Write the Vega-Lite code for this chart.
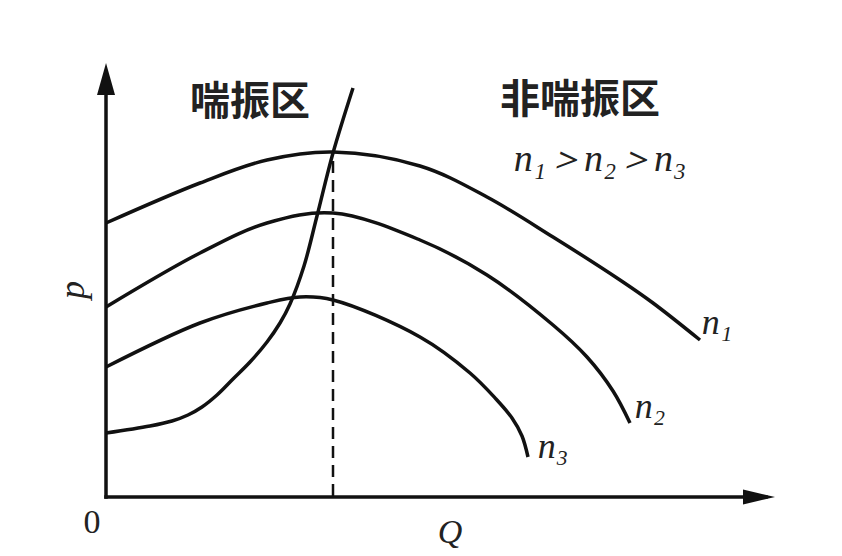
{
  "$schema": "https://vega.github.io/schema/vega-lite/v6.json",
  "width": 680,
  "height": 440,
  "autosize": {"type": "none"},
  "padding": {"left": 106, "top": 57, "right": 56, "bottom": 59},
  "background": "white",
  "config": {"view": {"stroke": null}},
  "datasets": {
    "curves": [
      {"series": "n1", "i": 0, "q": 0, "p": 274},
      {"series": "n1", "i": 1, "q": 94, "p": 314},
      {"series": "n1", "i": 2, "q": 161, "p": 337},
      {"series": "n1", "i": 3, "q": 227, "p": 345},
      {"series": "n1", "i": 4, "q": 314, "p": 331},
      {"series": "n1", "i": 5, "q": 381, "p": 300},
      {"series": "n1", "i": 6, "q": 447, "p": 260},
      {"series": "n1", "i": 7, "q": 514, "p": 217},
      {"series": "n1", "i": 8, "q": 547, "p": 194},
      {"series": "n1", "i": 9, "q": 594, "p": 157},
      {"series": "n2", "i": 0, "q": 0, "p": 190},
      {"series": "n2", "i": 1, "q": 94, "p": 244},
      {"series": "n2", "i": 2, "q": 161, "p": 274},
      {"series": "n2", "i": 3, "q": 227, "p": 284},
      {"series": "n2", "i": 4, "q": 314, "p": 257},
      {"series": "n2", "i": 5, "q": 381, "p": 222},
      {"series": "n2", "i": 6, "q": 447, "p": 172},
      {"series": "n2", "i": 7, "q": 481, "p": 140},
      {"series": "n2", "i": 8, "q": 507, "p": 106},
      {"series": "n2", "i": 9, "q": 524, "p": 74},
      {"series": "n3", "i": 0, "q": 0, "p": 130},
      {"series": "n3", "i": 1, "q": 94, "p": 174},
      {"series": "n3", "i": 2, "q": 161, "p": 194},
      {"series": "n3", "i": 3, "q": 194, "p": 200},
      {"series": "n3", "i": 4, "q": 227, "p": 197},
      {"series": "n3", "i": 5, "q": 314, "p": 160},
      {"series": "n3", "i": 6, "q": 364, "p": 124},
      {"series": "n3", "i": 7, "q": 390, "p": 98},
      {"series": "n3", "i": 8, "q": 406, "p": 79},
      {"series": "n3", "i": 9, "q": 416, "p": 61},
      {"series": "n3", "i": 10, "q": 422, "p": 40},
      {"series": "surge", "i": 0, "q": 0, "p": 64},
      {"series": "surge", "i": 1, "q": 44, "p": 71},
      {"series": "surge", "i": 2, "q": 66, "p": 76},
      {"series": "surge", "i": 3, "q": 82, "p": 82},
      {"series": "surge", "i": 4, "q": 96, "p": 90},
      {"series": "surge", "i": 5, "q": 111, "p": 102},
      {"series": "surge", "i": 6, "q": 127, "p": 118},
      {"series": "surge", "i": 7, "q": 144, "p": 135},
      {"series": "surge", "i": 8, "q": 161, "p": 155},
      {"series": "surge", "i": 9, "q": 174, "p": 174},
      {"series": "surge", "i": 10, "q": 184, "p": 193},
      {"series": "surge", "i": 11, "q": 198, "p": 231},
      {"series": "surge", "i": 12, "q": 211, "p": 281},
      {"series": "surge", "i": 13, "q": 227, "p": 344},
      {"series": "surge", "i": 14, "q": 247, "p": 409}
    ],
    "axes": [
      {"name": "x", "q": 0, "p": 0, "q2": 660, "p2": 0},
      {"name": "y", "q": 0, "p": 0, "q2": 0, "p2": 425}
    ],
    "dash": [
      {"q": 227, "p": 336, "q2": 227, "p2": 0}
    ],
    "arrows": [
      {"name": "x", "q": 653, "p": 0, "shape": "M1.6,0L-1.6,0.75L-1.6,-0.75Z"},
      {"name": "y", "q": 0, "p": 418, "shape": "M0,-1.6L0.9,1.6L-0.9,1.6Z"}
    ],
    "cjk": [
      {"label": "喘振区", "q": 144, "p": 394},
      {"label": "非喘振区", "q": 474, "p": 396}
    ],
    "italic": [
      {"label": "n₁＞n₂＞n₃", "q": 494, "p": 337, "angle": 0, "size": 38},
      {"label": "n₁", "q": 611, "p": 174, "angle": 0, "size": 36},
      {"label": "n₂", "q": 544, "p": 90, "angle": 0, "size": 36},
      {"label": "n₃", "q": 447, "p": 50, "angle": 0, "size": 36},
      {"label": "p", "q": -33, "p": 207, "angle": 270, "size": 36},
      {"label": "Q", "q": 344, "p": -36, "angle": 0, "size": 34}
    ],
    "plain": [
      {"label": "0", "q": -14, "p": -26}
    ]
  },
  "layer": [
    {
      "data": {"name": "curves"},
      "mark": {"type": "line", "color": "#111111", "strokeWidth": 3.5, "interpolate": "catmull-rom", "clip": false},
      "encoding": {
        "x": {"field": "q", "type": "quantitative", "scale": {"domain": [0, 680], "nice": false, "zero": false}, "axis": null},
        "y": {"field": "p", "type": "quantitative", "scale": {"domain": [0, 440], "nice": false, "zero": false}, "axis": null},
        "detail": {"field": "series"},
        "order": {"field": "i", "type": "quantitative"}
      }
    },
    {
      "data": {"name": "dash"},
      "mark": {"type": "rule", "color": "#111111", "strokeWidth": 2.5, "strokeDash": [12, 7]},
      "encoding": {
        "x": {"field": "q", "type": "quantitative"},
        "y": {"field": "p", "type": "quantitative"},
        "x2": {"field": "q2"},
        "y2": {"field": "p2"}
      }
    },
    {
      "data": {"name": "axes"},
      "mark": {"type": "rule", "color": "#111111", "strokeWidth": 3.5, "strokeCap": "square"},
      "encoding": {
        "x": {"field": "q", "type": "quantitative"},
        "y": {"field": "p", "type": "quantitative"},
        "x2": {"field": "q2"},
        "y2": {"field": "p2"}
      }
    },
    {
      "data": {"name": "arrows"},
      "mark": {"type": "point", "filled": true, "color": "#111111", "opacity": 1, "size": 400, "clip": false},
      "encoding": {
        "x": {"field": "q", "type": "quantitative"},
        "y": {"field": "p", "type": "quantitative"},
        "shape": {"field": "shape", "type": "nominal", "scale": null}
      }
    },
    {
      "data": {"name": "cjk"},
      "mark": {"type": "text", "font": "Noto Sans CJK SC", "fontWeight": "bold", "fontSize": 40, "color": "#222222", "align": "center", "baseline": "middle"},
      "encoding": {
        "x": {"field": "q", "type": "quantitative"},
        "y": {"field": "p", "type": "quantitative"},
        "text": {"field": "label"}
      }
    },
    {
      "data": {"name": "italic"},
      "mark": {"type": "text", "font": "Liberation Serif", "fontStyle": "italic", "color": "#222222", "align": "center", "baseline": "middle"},
      "encoding": {
        "x": {"field": "q", "type": "quantitative"},
        "y": {"field": "p", "type": "quantitative"},
        "text": {"field": "label"},
        "size": {"field": "size", "type": "quantitative", "scale": null},
        "angle": {"field": "angle", "type": "quantitative", "scale": null}
      }
    },
    {
      "data": {"name": "plain"},
      "mark": {"type": "text", "font": "Liberation Serif", "fontSize": 34, "color": "#222222", "align": "center", "baseline": "middle"},
      "encoding": {
        "x": {"field": "q", "type": "quantitative"},
        "y": {"field": "p", "type": "quantitative"},
        "text": {"field": "label"}
      }
    }
  ]
}
